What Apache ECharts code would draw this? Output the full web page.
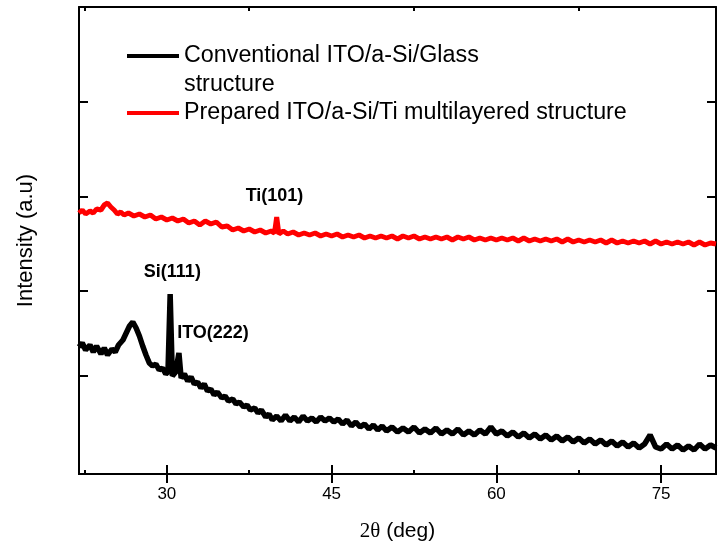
<!DOCTYPE html>
<html>
<head>
<meta charset="utf-8">
<script src="https://cdn.jsdelivr.net/npm/echarts@6/dist/echarts.min.js"></script>
<style>
  html, body { margin: 0; padding: 0; background: #fff; }
  #chart { width: 721px; height: 552px; }
</style>
</head>
<body>
<div id="chart"></div>
<script>
  // 2theta (deg), intensity (a.u.)
  var glassData = [
    [22.0, 127], [22.3, 131], [22.6, 124], [23.0, 129], [23.3, 122], [23.6, 128],
    [24.0, 120], [24.3, 126], [24.6, 119], [25.0, 125], [25.3, 122], [25.6, 129],
    [26.0, 134], [26.3, 141], [26.6, 148], [26.9, 152], [27.2, 146], [27.5, 138],
    [27.8, 128], [28.1, 119], [28.4, 111], [28.7, 108], [29.0, 110], [29.3, 104],
    [29.6, 106], [29.9, 100], [30.1, 102], [30.3, 180], [30.5, 98], [30.8, 102],
    [31.1, 121], [31.3, 96], [31.6, 100], [31.9, 93], [32.2, 97], [32.5, 90],
    [32.8, 92], [33.1, 86], [33.4, 90], [33.7, 83], [34.0, 85], [34.3, 79],
    [34.6, 82], [35.0, 76], [35.3, 78], [35.6, 73], [36.0, 75], [36.3, 70],
    [36.6, 72], [37.0, 67], [37.3, 69], [37.6, 64], [38.0, 66], [38.3, 61],
    [38.6, 64], [39.0, 57], [39.3, 60], [39.6, 54], [40.0, 58], [40.4, 53],
    [40.8, 59], [41.2, 53], [41.6, 57], [42.0, 52], [42.4, 58], [42.8, 53],
    [43.2, 56], [43.6, 52], [44.0, 57], [44.4, 53], [44.8, 56], [45.2, 52],
    [45.6, 55], [46.0, 50], [46.4, 54], [46.8, 48], [47.2, 52], [47.6, 47],
    [48.0, 50], [48.4, 45], [48.8, 49], [49.2, 44], [49.6, 48], [50.0, 43],
    [50.5, 47], [51.0, 42], [51.5, 46], [52.0, 42], [52.5, 47], [53.0, 41],
    [53.5, 45], [54.0, 41], [54.5, 46], [55.0, 40], [55.5, 44], [56.0, 40],
    [56.5, 45], [57.0, 39], [57.5, 43], [58.0, 39], [58.5, 44], [59.0, 40],
    [59.5, 47], [60.0, 40], [60.5, 43], [61.0, 38], [61.5, 42], [62.0, 37],
    [62.5, 41], [63.0, 36], [63.5, 40], [64.0, 35], [64.5, 39], [65.0, 34],
    [65.5, 38], [66.0, 33], [66.5, 37], [67.0, 32], [67.5, 36], [68.0, 31],
    [68.5, 35], [69.0, 30], [69.5, 34], [70.0, 29], [70.5, 33], [71.0, 28],
    [71.5, 32], [72.0, 27], [72.5, 31], [73.0, 26], [73.5, 30], [74.0, 39],
    [74.5, 27], [75.0, 25], [75.5, 30], [76.0, 25], [76.5, 29], [77.0, 24],
    [77.5, 28], [78.0, 24], [78.5, 30], [79.0, 25], [79.5, 29], [80.0, 26]
  ];

  var tiData = [
    [22.0, 261], [22.3, 264], [22.6, 260], [23.0, 263], [23.3, 261], [23.6, 265],
    [24.0, 264], [24.3, 269], [24.6, 271], [24.9, 267], [25.2, 264], [25.5, 260],
    [25.8, 262], [26.1, 259], [26.5, 261], [27.0, 258], [27.5, 260], [28.0, 257],
    [28.5, 259], [29.0, 255], [29.5, 257], [30.0, 254], [30.5, 256], [31.0, 253],
    [31.5, 255], [32.0, 251], [32.5, 253], [33.0, 249], [33.5, 253], [34.0, 250],
    [34.5, 252], [35.0, 247], [35.5, 248], [36.0, 244], [36.5, 246], [37.0, 243],
    [37.5, 245], [38.0, 242], [38.5, 244], [39.0, 241], [39.5, 243], [39.8, 241],
    [40.0, 257], [40.2, 240], [40.6, 243], [41.0, 240], [41.5, 242], [42.0, 239],
    [42.5, 241], [43.0, 239], [43.5, 241], [44.0, 238], [44.5, 240], [45.0, 238],
    [45.5, 240], [46.0, 237], [46.5, 239], [47.0, 237], [47.5, 239], [48.0, 236],
    [48.5, 238], [49.0, 236], [49.5, 238], [50.0, 236], [50.5, 238], [51.0, 235],
    [51.5, 238], [52.0, 236], [52.5, 238], [53.0, 235], [53.5, 237], [54.0, 235],
    [54.5, 237], [55.0, 235], [55.5, 237], [56.0, 234], [56.5, 237], [57.0, 235],
    [57.5, 237], [58.0, 234], [58.5, 236], [59.0, 234], [59.5, 236], [60.0, 234],
    [60.5, 236], [61.0, 234], [61.5, 236], [62.0, 233], [62.5, 236], [63.0, 233],
    [63.5, 235], [64.0, 233], [64.5, 235], [65.0, 233], [65.5, 235], [66.0, 232],
    [66.5, 235], [67.0, 232], [67.5, 234], [68.0, 232], [68.5, 234], [69.0, 232],
    [69.5, 234], [70.0, 231], [70.5, 234], [71.0, 231], [71.5, 233], [72.0, 231],
    [72.5, 233], [73.0, 231], [73.5, 233], [74.0, 230], [74.5, 233], [75.0, 230],
    [75.5, 232], [76.0, 230], [76.5, 232], [77.0, 230], [77.5, 232], [78.0, 229],
    [78.5, 232], [79.0, 229], [79.5, 231], [80.0, 230]
  ];

  var seriesNames = [
    'Conventional ITO/a-Si/Glass',
    'Prepared ITO/a-Si/Ti multilayered structure'
  ];
  var legendWrap = 'structure';

  var majorTicks = [30, 45, 60, 75];
  var minorTicks = [22.5, 37.5, 52.5, 67.5];
  var yTicks = [98, 183, 277, 372];

  // peak labels: [2theta, intensity, text]
  var glassPeaks = [[30.5, 202, 'Si(111)'], [34.2, 141, 'ITO(222)']];
  var tiPeaks = [[39.8, 278, 'Ti(101)']];

  var font = 'Liberation Sans, Arial, sans-serif';

  function peakMarks(list) {
    return {
      symbol: 'circle',
      symbolSize: 1,
      itemStyle: { color: 'rgba(0,0,0,0)' },
      label: {
        show: true, position: 'inside', color: '#000',
        fontFamily: font, fontWeight: 'bold', fontSize: 18,
        formatter: function (p) { return p.name; }
      },
      data: list.map(function (d) { return { name: d[2], coord: [d[0], d[1]] }; })
    };
  }

  function xAxis(pos, ticks, len, labels, name) {
    return {
      type: 'value', position: pos, min: 22, max: 80,
      name: name || '',
      nameLocation: 'middle', nameGap: 47,
      nameTextStyle: {
        fontFamily: font, fontSize: 21, color: '#000',
        rich: { s: { fontFamily: 'Liberation Serif, Times New Roman, serif', fontSize: 21, color: '#000' } }
      },
      axisLine: { show: true, lineStyle: { color: '#000', width: 2 } },
      axisTick: { show: true, inside: true, length: len, customValues: ticks, lineStyle: { color: '#000', width: 2 } },
      axisLabel: { show: labels, customValues: ticks, margin: 12, color: '#000', fontFamily: font, fontSize: 17 },
      splitLine: { show: false }
    };
  }

  function yAxis(pos, name) {
    return {
      type: 'value', position: pos, min: 0, max: 467,
      name: name || '',
      nameLocation: 'middle', nameGap: 42,
      nameTextStyle: { fontFamily: font, fontSize: 22, color: '#000' },
      axisLine: { show: true, lineStyle: { color: '#000', width: 2 } },
      axisTick: { show: true, inside: true, length: 9, customValues: yTicks, lineStyle: { color: '#000', width: 2 } },
      axisLabel: { show: false },
      splitLine: { show: false }
    };
  }

  var chart = echarts.init(document.getElementById('chart'));
  chart.setOption({
    animation: false,
    backgroundColor: '#fff',
    grid: { left: 79, right: 5, top: 7, bottom: 78 },
    legend: {
      orient: 'vertical',
      left: 127,
      top: 42,
      padding: 0,
      itemGap: 29,
      itemWidth: 52,
      itemHeight: 4,
      icon: 'rect',
      textStyle: { fontFamily: font, fontSize: 23.3, color: '#000', lineHeight: 28 },
      data: seriesNames
    },
    graphic: [{
      type: 'text', left: 184, top: 73,
      style: { text: legendWrap, fontFamily: font, fontSize: 23.3, fill: '#000' }
    }],
    xAxis: [
      xAxis('bottom', majorTicks, 9, true, '{s|2θ} (deg)'),
      xAxis('top', majorTicks, 9, false),
      xAxis('bottom', minorTicks, 4, false),
      xAxis('top', minorTicks, 4, false)
    ],
    yAxis: [
      yAxis('left', 'Intensity (a.u)'),
      yAxis('right')
    ],
    series: [
      {
        name: seriesNames[0], type: 'line', xAxisIndex: 0, yAxisIndex: 0,
        data: glassData, showSymbol: false, color: '#000',
        lineStyle: { color: '#000', width: 5.5 },
        markPoint: peakMarks(glassPeaks)
      },
      {
        name: seriesNames[1], type: 'line', xAxisIndex: 0, yAxisIndex: 0,
        data: tiData, showSymbol: false, color: '#ff0000',
        lineStyle: { color: '#ff0000', width: 5 },
        markPoint: peakMarks(tiPeaks)
      }
    ]
  });
</script>
</body>
</html>
